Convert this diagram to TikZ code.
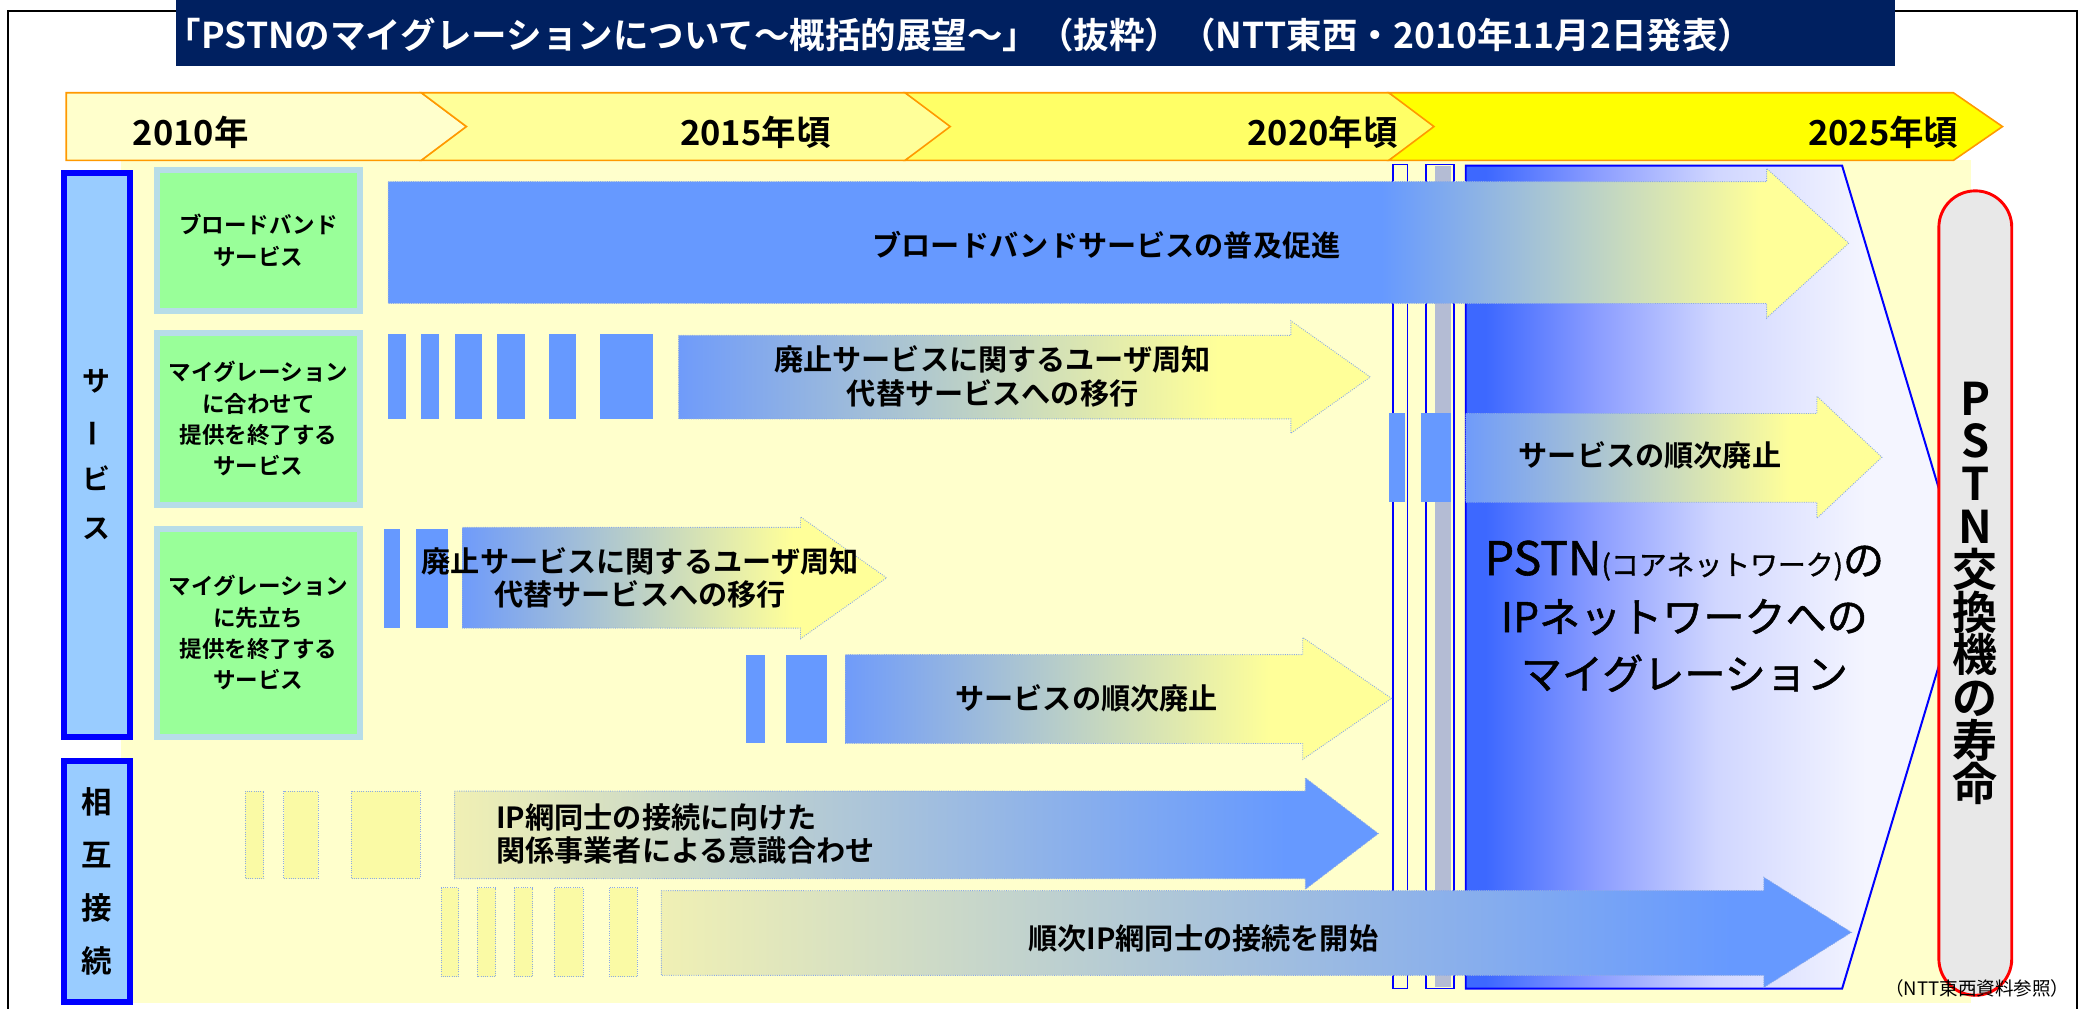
\documentclass[tikz,border=0pt]{standalone}
\usepackage{fontspec}
\setmainfont{Noto Sans CJK JP}[BoldFont={Noto Sans CJK JP Bold}]
\newfontfamily\panelfont{Noto Sans CJK JP}[FakeBold=1.2]
\usetikzlibrary{positioning}

\definecolor{titlenavy}{RGB}{0,32,96}
\definecolor{chevA}{RGB}{255,255,204}
\definecolor{chevB}{RGB}{255,255,153}
\definecolor{chevC}{RGB}{255,255,102}
\definecolor{chevD}{RGB}{255,255,0}
\definecolor{chevline}{RGB}{255,153,0}
\definecolor{bgyellow}{RGB}{255,255,204}
\definecolor{catblue}{RGB}{153,204,255}
\definecolor{catline}{RGB}{0,0,255}
\definecolor{svcgreen}{RGB}{153,255,153}
\definecolor{svcline}{RGB}{183,221,232}
\definecolor{barblue}{RGB}{102,153,255}
\definecolor{fadeblue}{RGB}{111,155,250}
\definecolor{paleyel}{RGB}{255,255,153}
\definecolor{fadepale}{RGB}{240,240,180}
\definecolor{barpale}{RGB}{250,250,165}
\definecolor{dotline}{RGB}{140,170,230}
\definecolor{panelblue}{RGB}{61,104,255}
\definecolor{panelmid}{RGB}{138,156,255}
\definecolor{panellight}{RGB}{208,214,255}
\definecolor{panelwhite}{RGB}{244,245,255}
\definecolor{capsgray}{RGB}{232,232,232}
\definecolor{stripgray}{RGB}{180,188,212}

\pgfdeclarehorizontalshading{broadfade}{100bp}{color(0bp)=(barblue); color(59bp)=(barblue); color(72bp)=(paleyel); color(100bp)=(paleyel)}
\pgfdeclarehorizontalshading{endfade}{100bp}{color(0bp)=(fadeblue); color(25bp)=(fadeblue); color(64bp)=(paleyel); color(100bp)=(paleyel)}
\pgfdeclarehorizontalshading{startfade}{100bp}{color(0bp)=(fadepale); color(25bp)=(fadepale); color(70bp)=(barblue); color(100bp)=(barblue)}
\pgfdeclarehorizontalshading{panelfade}{100bp}{color(0bp)=(panelblue); color(27bp)=(panelblue); color(38bp)=(panelmid); color(50bp)=(panellight); color(65bp)=(panelwhite); color(100bp)=(panelwhite)}

\tikzset{
  chev/.style={draw=chevline, line width=1.2},
  catbox/.style={draw=catline, fill=catblue, line width=4.5, minimum width=49.5, inner sep=0, align=center,
    font=\bfseries\fontsize{21}{37}\selectfont},
  svcbox/.style={draw=svcline, fill=svcgreen, line width=4.4, minimum width=153.6, inner sep=0, align=center,
    font=\bfseries\fontsize{17}{23.7}\selectfont},
  lifebox/.style={draw=red, fill=capsgray, line width=2.2, rounded corners=27.5, inner sep=0, align=center,
    font=\bfseries\fontsize{34}{32.3}\selectfont},
  bar/.style={fill=barblue},
  palebar/.style={fill=barpale, draw=dotline, densely dotted, line width=0.7},
  colbox/.style={draw=catline, fill=bgyellow, line width=1.2},
  flow/.style={shade, draw=dotline, densely dotted, line width=0.7},
  yeartext/.style={font=\bfseries\fontsize{26}{26}\selectfont},
  flowtext/.style={align=center, font=\bfseries\fontsize{22}{25}\selectfont},
  paneltext/.style={align=center, font=\panelfont\fontsize{31}{43}\selectfont}
}

% x0, body top, body bottom, head base, head top, head bottom, tip
\newcommand{\flowarrow}[8]{%
  \pgfmathsetmacro\flowmid{(#6+#7)/2}
  \path[#1] (#2,#3) -- (#5,#3) -- (#5,#6) -- (#8,\flowmid) -- (#5,#7) -- (#5,#4) -- (#2,#4) -- cycle;}

\begin{document}
\begin{tikzpicture}[x=1pt, y=-1pt]
  \useasboundingbox (0,0) rectangle (1568,761);
  \fill[white] (0,0) rectangle (1568,761);
  \draw[black, line width=1.5] (6,8) rectangle (1567,770);

  \fill[titlenavy] (133,0) rectangle (1430,50);
  \node[text=white, font=\bfseries\fontsize{26.8}{26.8}\selectfont] (title) at (724,26)
    {「PSTNのマイグレーションについて～概括的展望～」（抜粋）（NTT東西・2010年11月2日発表）};

  \fill[bgyellow] (91,121) rectangle (1487,757);

  % timeline
  \draw[chev, fill=chevA] (50,70) -- (318,70) -- (352,95.5) -- (318,121) -- (50,121) -- cycle;
  \foreach \s/\e/\c in {318/683/chevB, 683/1048/chevC, 1048/1474/chevD}
    \draw[chev, fill=\c] (\s,70) -- (\e,70) -- (\e+37,95.5) -- (\e,121) -- (\s,121) -- (\s+34,95.5) -- cycle;
  \node[yeartext] (y2010) at (144,100) {2010年};
  \node[yeartext] (y2015) at (570,100) {2015年頃};
  \node[yeartext] (y2020) at (998,100) {2020年頃};
  \node[yeartext] (y2025) at (1421,100) {2025年頃};

  \node[catbox, minimum height=425.5] (svccat) at (73,343) {サ\\\rotatebox[origin=c]{90}{ー}\\ビ\\ス};
  \node[catbox, minimum height=181.5, font=\bfseries\fontsize{23}{40}\selectfont] (iccat) at (73,665) {相\\互\\接\\続};

  \node[svcbox, minimum height=106.6] (broad) at (195,181.5) {ブロードバンド\\サービス};
  \node[svcbox, minimum height=129.6] (svcwith) at (195,316) {マイグレーション\\に合わせて\\提供を終了する\\サービス};
  \node[svcbox, minimum height=156.6] (svcbefore) at (195,477.5) {マイグレーション\\に先立ち\\提供を終了する\\サービス};

  \draw[colbox] (1051,124) rectangle (1062,746);
  \draw[colbox] (1076,124) rectangle (1097,746);
  \fill[stripgray] (1083,125) rectangle (1095,745);

  \draw[catline, line width=1.5, shading=panelfade] (1106,125) -- (1390,125) -- (1483,435.5) -- (1390,746) -- (1106,746) -- cycle;

  % bars
  \foreach \a/\b in {293/306, 318/331, 343/364, 375/396, 414/435, 453/493}
    \fill[bar] (\a,252) rectangle (\b,316);
  \foreach \a/\b in {1048/1060, 1072/1095}
    \fill[bar] (\a,312) rectangle (\b,379);
  \foreach \a/\b in {290/302, 314/338}
    \fill[bar] (\a,399) rectangle (\b,474);
  \foreach \a/\b in {563/577, 593/624}
    \fill[bar] (\a,494) rectangle (\b,561);
  \foreach \a/\b in {185/199, 214/240, 265/317}
    \path[palebar] (\a,597) rectangle (\b,663);
  \foreach \a/\b in {333/346, 360/374, 388/402, 418/440, 460/481}
    \path[palebar] (\a,670) rectangle (\b,737);

  % arrows
  \flowarrow{flow, shading=broadfade}{293}{137}{229}{1333}{127}{240}{1395}
  \flowarrow{flow, shading=endfade}{512}{253}{316}{974}{242}{327}{1034}
  \flowarrow{flow, shading=endfade}{1106}{312}{379}{1371}{299}{391}{1420}
  \flowarrow{flow, shading=endfade}{349}{398}{474}{604}{390}{482}{669}
  \flowarrow{flow, shading=endfade}{638}{494}{561}{983}{481}{573}{1050}
  \flowarrow{flow, shading=startfade}{343}{597}{663}{985}{587}{671}{1040}
  \flowarrow{flow, shading=startfade}{499}{672}{736}{1331}{662}{745}{1397}

  \node[flowtext] (broadtxt) at (835,185) {ブロードバンドサービスの普及促進};
  \node[flowtext] (notice1) at (749,284) {廃止サービスに関するユーザ周知\\代替サービスへの移行};
  \node[flowtext] (retire1) at (1245,344) {サービスの順次廃止};
  \node[flowtext] (notice2) at (483,436) {廃止サービスに関するユーザ周知\\代替サービスへの移行};
  \node[flowtext] (retire2) at (820,527) {サービスの順次廃止};
  \node[flowtext, align=left, anchor=west] (ipnet1) at (371,629) {IP網同士の接続に向けた\\関係事業者による意識合わせ};
  \node[flowtext] (ipnet2) at (908,708) {順次IP網同士の接続を開始};

  \node[paneltext] (migr) at (1271,465)
    {{\fontsize{35}{43}\selectfont PSTN}{\fontsize{21}{21}\selectfont(コアネットワーク)}の\\IPネットワークへの\\マイグレーション};

  \node[lifebox, minimum width=55, minimum height=607] (life) at (1490.5,447.5) {P\\S\\T\\N\\交\\換\\機\\の\\寿\\命};

  \node[font=\fontsize{14}{14}\selectfont] (src) at (1492,746) {（NTT東西資料参照）};
\end{tikzpicture}
\end{document}
